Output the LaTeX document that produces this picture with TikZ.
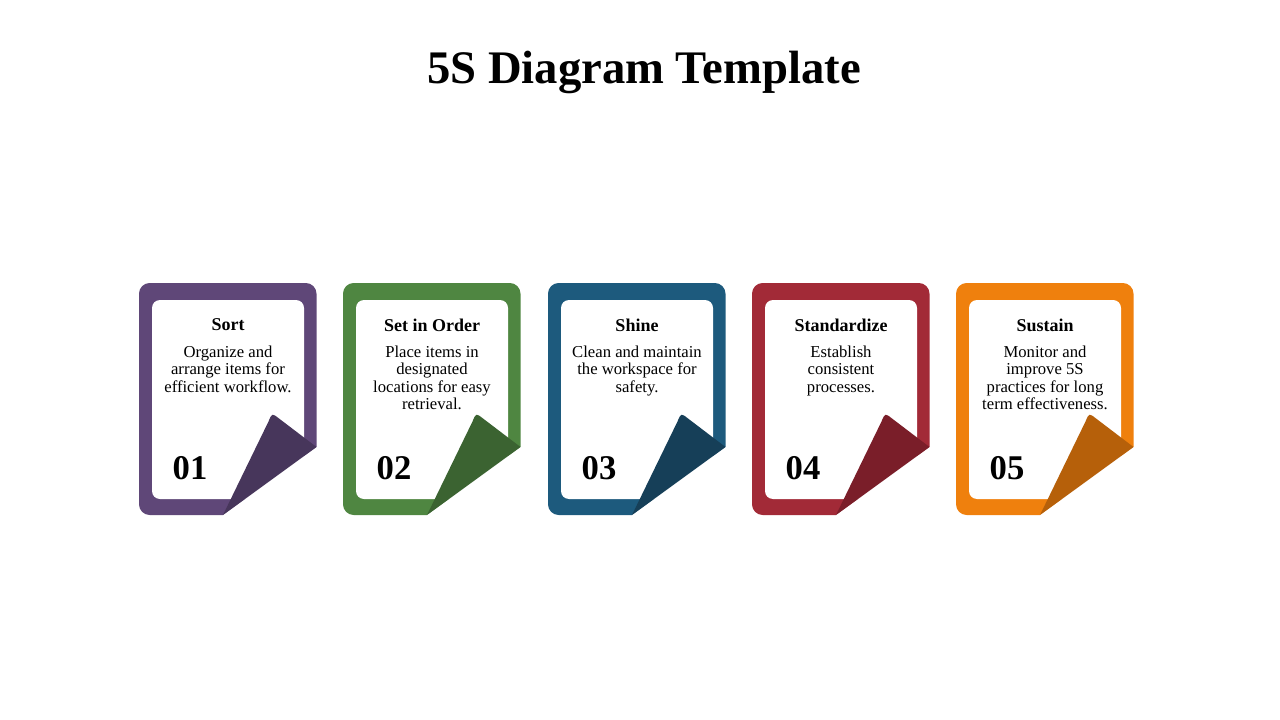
\documentclass[tikz,border=0pt]{standalone}
\usepackage{fontspec}
\setmainfont{Liberation Serif}
\usetikzlibrary{positioning}

\definecolor{sortcol}{HTML}{5F4778}
\definecolor{sortdark}{HTML}{47365B}
\definecolor{ordercol}{HTML}{4F8641}
\definecolor{orderdark}{HTML}{3B6331}
\definecolor{shinecol}{HTML}{1D5A7D}
\definecolor{shinedark}{HTML}{163F58}
\definecolor{standcol}{HTML}{A22A37}
\definecolor{standdark}{HTML}{7A1E29}
\definecolor{sustcol}{HTML}{EF800D}
\definecolor{sustdark}{HTML}{B6600A}

\tikzset{
  cardhead/.style={font=\bfseries\fontsize{13.5}{16}\selectfont, inner sep=0pt},
  cardbody/.style={font=\fontsize{12.5}{13.1}\selectfont, align=center, inner sep=0pt},
  cardnum/.style={font=\bfseries\fontsize{26}{30}\selectfont, inner sep=0pt}
}

\begin{document}
\begin{tikzpicture}[x=0.75pt, y=-0.75pt]
	\useasboundingbox (0,0) rectangle (1280,720);
	\node (title) at (644,72) [font=\bfseries\fontsize{35}{40}\selectfont] {5S Diagram Template};

	\foreach \n/\x/\col/\dark/\head/\body in {
		01/139/sortcol/sortdark/Sort/{Organize and\\arrange items for\\efficient workflow.},
		02/343/ordercol/orderdark/Set in Order/{Place items in\\designated\\locations for easy\\retrieval.},
		03/548/shinecol/shinedark/Shine/{Clean and maintain\\the workspace for\\safety.},
		04/752/standcol/standdark/Standardize/{Establish\\consistent\\processes.},
		05/956/sustcol/sustdark/Sustain/{Monitor and\\improve 5S\\practices for long\\term effectiveness.}}
	{
		% card with the cut corner
		\fill[\col, rounded corners=8] (\x,283) rectangle ++(177.5,232);
		\fill[white] (\x+177.5,447) -- (\x+182,447) -- (\x+182,519) -- (\x+84,519) -- (\x+84,515) -- cycle;
		\fill[white, rounded corners=6] (\x+13,300) rectangle ++(152,199);
		% folded flap
		\fill[\dark] (\x+84,515) -- (\x+129.5,421.5) .. controls (\x+133,413) .. (\x+140,418.5) -- (\x+177.5,447) -- cycle;

		\node (head\n) at (\x+89,325) [cardhead] {\head};
		\node (body\n) [cardbody, below=10.5pt of head\n] {\body};
		\node (num\n) at (\x+51,468) [cardnum] {\n};
	}
\end{tikzpicture}
\end{document}
